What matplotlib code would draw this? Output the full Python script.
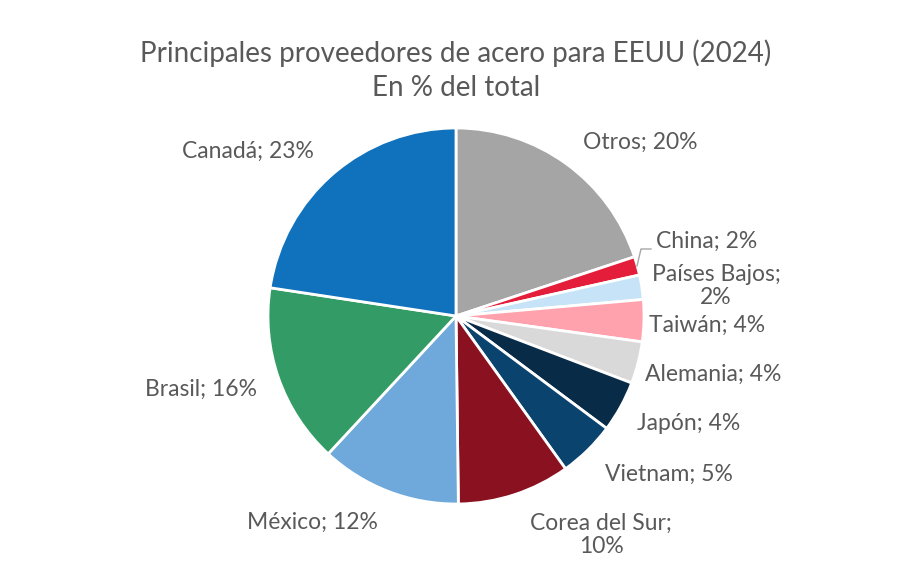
import matplotlib.pyplot as plt

# Slice data (clockwise from 12 o'clock)
countries = ["Otros", "China", "Países Bajos", "Taiwán", "Alemania", "Japón",
             "Vietnam", "Corea del Sur", "México", "Brasil", "Canadá"]
shares = [19.9, 1.6, 2.1, 3.6, 3.6, 4.4, 4.9, 9.7, 12.1, 15.5, 22.6]
colors = ["#A5A5A5", "#E41E3A", "#C6E3F7", "#FFA2AE", "#D9D9D9", "#082B47",
          "#0B436F", "#8A1120", "#6FA9DC", "#339B66", "#1072BD"]

# label centres in pixels of the 912x577 picture, and line breaks
label_px = [(640, 142), (656, 241), (716, 286), (707, 325), (713, 374), (689, 424),
            (669, 474), (601, 535), (312, 522), (201, 389), (248, 151)]
two_lines = {"Países Bajos", "Corea del Sur"}

W, H = 912, 577
CX, CY, R = 456, 316, 188
TEXT = "#595959"

plt.rcParams["font.family"] = ["Lato", "DejaVu Sans"]

fig = plt.figure(figsize=(W / 100, H / 100), dpi=100)
ax = fig.add_axes([(CX - R) / W, (H - CY - R) / H, 2 * R / W, 2 * R / H])
ax.pie(shares, colors=colors, startangle=90, counterclock=False, radius=1,
       wedgeprops={"edgecolor": "white", "linewidth": 2})
ax.set_xlim(-1, 1)
ax.set_ylim(-1, 1)
ax.axis("off")


def to_data(px, py):
    return (px - CX) / R, (CY - py) / R


for name, val, (px, py) in zip(countries, shares, label_px):
    sep = ";\n" if name in two_lines else "; "
    txt = f"{name}{sep}{round(val)}%"
    x, y = to_data(px, py)
    ha = "left" if name == "China" else "center"
    ax.text(x, y, txt, ha=ha, va="center", fontsize=16.5, color=TEXT,
            linespacing=1.1, clip_on=False)

# leader line for China
lx, ly = zip(*[to_data(637, 266), to_data(641, 249), to_data(651, 249)])
ax.plot(lx, ly, color="#A6A6A6", lw=1, clip_on=False)

fig.text(CX / W, 1 - 53 / H, "Principales proveedores de acero para EEUU (2024)",
         ha="center", va="center", fontsize=20, color=TEXT)
fig.text(CX / W, 1 - 88 / H, "En % del total",
         ha="center", va="center", fontsize=20, color=TEXT)

fig.savefig("out.png", dpi=100)
